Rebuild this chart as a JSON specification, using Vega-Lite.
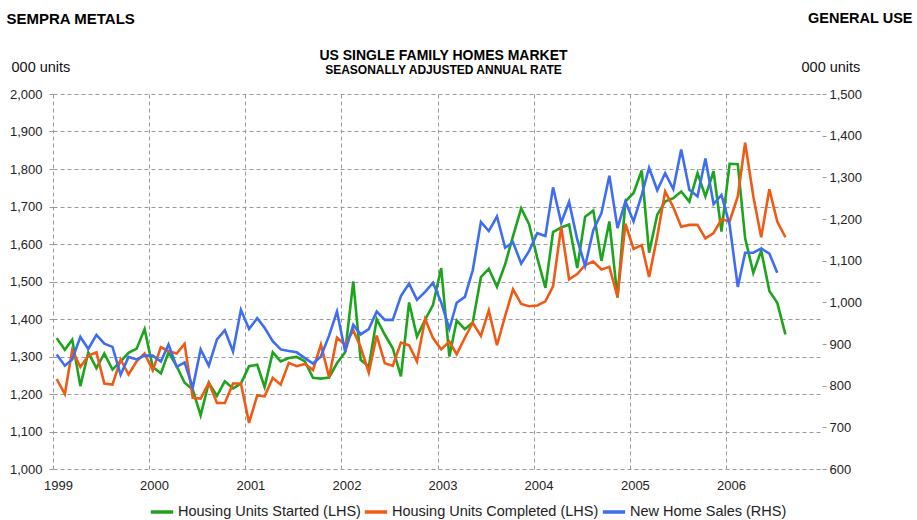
{
  "$schema": "https://vega.github.io/schema/vega-lite/v6.json",
  "autosize": {"type": "none"},
  "padding": {"left": 53, "top": 94, "right": 95, "bottom": 51},
  "width": 769,
  "height": 375,
  "background": "white",
  "config": {
    "view": {"stroke": null},
    "font": "Liberation Sans",
    "axis": {"labelFont": "Liberation Sans", "titleFont": "Liberation Sans", "labelColor": "#222", "titleColor": "#111"},
    "legend": {"labelFont": "Liberation Sans"}
  },
  "title": {
    "text": "US SINGLE FAMILY HOMES MARKET",
    "subtitle": "SEASONALLY ADJUSTED ANNUAL RATE",
    "anchor": "middle",
    "frame": "group",
    "fontSize": 14,
    "subtitleFontSize": 12,
    "fontWeight": "bold",
    "subtitleFontWeight": "bold",
    "font": "Liberation Sans",
    "subtitleFont": "Liberation Sans",
    "color": "#000",
    "subtitleColor": "#000",
    "subtitlePadding": 2,
    "dx": 6,
    "dy": 76,
    "offset": 10
  },
  "data": {"values": [
    {"month": "1999-01-15", "started": 1349, "completed": 1240, "sales": 875},
    {"month": "1999-02-15", "started": 1318, "completed": 1200, "sales": 848},
    {"month": "1999-03-15", "started": 1345, "completed": 1317, "sales": 863},
    {"month": "1999-04-15", "started": 1221, "completed": 1272, "sales": 917},
    {"month": "1999-05-15", "started": 1311, "completed": 1302, "sales": 888},
    {"month": "1999-06-15", "started": 1269, "completed": 1311, "sales": 922},
    {"month": "1999-07-15", "started": 1308, "completed": 1228, "sales": 901},
    {"month": "1999-08-15", "started": 1265, "completed": 1225, "sales": 893},
    {"month": "1999-09-15", "started": 1287, "completed": 1292, "sales": 826},
    {"month": "1999-10-15", "started": 1310, "completed": 1252, "sales": 869},
    {"month": "1999-11-15", "started": 1321, "completed": 1287, "sales": 863},
    {"month": "1999-12-15", "started": 1373, "completed": 1308, "sales": 872},
    {"month": "2000-01-15", "started": 1272, "completed": 1263, "sales": 872},
    {"month": "2000-02-15", "started": 1255, "completed": 1325, "sales": 858},
    {"month": "2000-03-15", "started": 1311, "completed": 1314, "sales": 899},
    {"month": "2000-04-15", "started": 1274, "completed": 1308, "sales": 845},
    {"month": "2000-05-15", "started": 1230, "completed": 1334, "sales": 856},
    {"month": "2000-06-15", "started": 1212, "completed": 1190, "sales": 795},
    {"month": "2000-07-15", "started": 1143, "completed": 1188, "sales": 887},
    {"month": "2000-08-15", "started": 1230, "completed": 1230, "sales": 848},
    {"month": "2000-09-15", "started": 1195, "completed": 1176, "sales": 911},
    {"month": "2000-10-15", "started": 1234, "completed": 1176, "sales": 933},
    {"month": "2000-11-15", "started": 1215, "completed": 1228, "sales": 882},
    {"month": "2000-12-15", "started": 1228, "completed": 1228, "sales": 982},
    {"month": "2001-01-15", "started": 1274, "completed": 1123, "sales": 936},
    {"month": "2001-02-15", "started": 1278, "completed": 1196, "sales": 962},
    {"month": "2001-03-15", "started": 1219, "completed": 1194, "sales": 939},
    {"month": "2001-04-15", "started": 1311, "completed": 1243, "sales": 907},
    {"month": "2001-05-15", "started": 1287, "completed": 1225, "sales": 887},
    {"month": "2001-06-15", "started": 1296, "completed": 1283, "sales": 883},
    {"month": "2001-07-15", "started": 1299, "completed": 1274, "sales": 880},
    {"month": "2001-08-15", "started": 1287, "completed": 1280, "sales": 866},
    {"month": "2001-09-15", "started": 1243, "completed": 1264, "sales": 853},
    {"month": "2001-10-15", "started": 1241, "completed": 1332, "sales": 870},
    {"month": "2001-11-15", "started": 1244, "completed": 1245, "sales": 920},
    {"month": "2001-12-15", "started": 1282, "completed": 1350, "sales": 978},
    {"month": "2002-01-15", "started": 1311, "completed": 1332, "sales": 882},
    {"month": "2002-02-15", "started": 1500, "completed": 1370, "sales": 946},
    {"month": "2002-03-15", "started": 1291, "completed": 1325, "sales": 923},
    {"month": "2002-04-15", "started": 1273, "completed": 1257, "sales": 936},
    {"month": "2002-05-15", "started": 1400, "completed": 1356, "sales": 978},
    {"month": "2002-06-15", "started": 1358, "completed": 1282, "sales": 958},
    {"month": "2002-07-15", "started": 1322, "completed": 1275, "sales": 958},
    {"month": "2002-08-15", "started": 1247, "completed": 1337, "sales": 1015},
    {"month": "2002-09-15", "started": 1444, "completed": 1330, "sales": 1045},
    {"month": "2002-10-15", "started": 1353, "completed": 1287, "sales": 1006},
    {"month": "2002-11-15", "started": 1398, "completed": 1400, "sales": 1025},
    {"month": "2002-12-15", "started": 1438, "completed": 1349, "sales": 1047},
    {"month": "2003-01-15", "started": 1536, "completed": 1319, "sales": 1000},
    {"month": "2003-02-15", "started": 1300, "completed": 1340, "sales": 936},
    {"month": "2003-03-15", "started": 1396, "completed": 1306, "sales": 999},
    {"month": "2003-04-15", "started": 1373, "completed": 1350, "sales": 1013},
    {"month": "2003-05-15", "started": 1391, "completed": 1390, "sales": 1077},
    {"month": "2003-06-15", "started": 1512, "completed": 1355, "sales": 1193},
    {"month": "2003-07-15", "started": 1534, "completed": 1423, "sales": 1171},
    {"month": "2003-08-15", "started": 1486, "completed": 1330, "sales": 1206},
    {"month": "2003-09-15", "started": 1546, "completed": 1408, "sales": 1131},
    {"month": "2003-10-15", "started": 1621, "completed": 1479, "sales": 1144},
    {"month": "2003-11-15", "started": 1695, "completed": 1440, "sales": 1093},
    {"month": "2003-12-15", "started": 1653, "completed": 1434, "sales": 1123},
    {"month": "2004-01-15", "started": 1563, "completed": 1436, "sales": 1166},
    {"month": "2004-02-15", "started": 1483, "completed": 1447, "sales": 1159},
    {"month": "2004-03-15", "started": 1632, "completed": 1487, "sales": 1276},
    {"month": "2004-04-15", "started": 1644, "completed": 1646, "sales": 1191},
    {"month": "2004-05-15", "started": 1652, "completed": 1506, "sales": 1241},
    {"month": "2004-06-15", "started": 1536, "completed": 1520, "sales": 1151},
    {"month": "2004-07-15", "started": 1673, "completed": 1544, "sales": 1087},
    {"month": "2004-08-15", "started": 1689, "completed": 1553, "sales": 1173},
    {"month": "2004-09-15", "started": 1555, "completed": 1532, "sales": 1214},
    {"month": "2004-10-15", "started": 1660, "completed": 1539, "sales": 1304},
    {"month": "2004-11-15", "started": 1457, "completed": 1459, "sales": 1178},
    {"month": "2004-12-15", "started": 1713, "completed": 1654, "sales": 1242},
    {"month": "2005-01-15", "started": 1736, "completed": 1587, "sales": 1194},
    {"month": "2005-02-15", "started": 1796, "completed": 1597, "sales": 1258},
    {"month": "2005-03-15", "started": 1577, "completed": 1512, "sales": 1323},
    {"month": "2005-04-15", "started": 1678, "completed": 1620, "sales": 1269},
    {"month": "2005-05-15", "started": 1713, "completed": 1740, "sales": 1310},
    {"month": "2005-06-15", "started": 1722, "completed": 1698, "sales": 1272},
    {"month": "2005-07-15", "started": 1740, "completed": 1646, "sales": 1367},
    {"month": "2005-08-15", "started": 1713, "completed": 1651, "sales": 1270},
    {"month": "2005-09-15", "started": 1789, "completed": 1651, "sales": 1254},
    {"month": "2005-10-15", "started": 1727, "completed": 1615, "sales": 1345},
    {"month": "2005-11-15", "started": 1794, "completed": 1629, "sales": 1236},
    {"month": "2005-12-15", "started": 1633, "completed": 1666, "sales": 1258},
    {"month": "2006-01-15", "started": 1814, "completed": 1660, "sales": 1186},
    {"month": "2006-02-15", "started": 1813, "completed": 1727, "sales": 1037},
    {"month": "2006-03-15", "started": 1615, "completed": 1870, "sales": 1119},
    {"month": "2006-04-15", "started": 1523, "completed": 1727, "sales": 1119},
    {"month": "2006-05-15", "started": 1582, "completed": 1618, "sales": 1129},
    {"month": "2006-06-15", "started": 1475, "completed": 1746, "sales": 1117},
    {"month": "2006-07-15", "started": 1443, "completed": 1660, "sales": 1071},
    {"month": "2006-08-15", "started": 1359, "completed": 1618}
  ]},
  "layer": [
    {
      "transform": [{"fold": ["started", "completed"], "as": ["series", "value"]}],
      "mark": {"type": "line", "strokeWidth": 2.6, "clip": false},
      "encoding": {
        "x": {
          "field": "month", "type": "temporal",
          "scale": {"domain": [{"year": 1999, "month": 1, "date": 1}, {"year": 2007, "month": 1, "date": 1}]},
          "axis": {
            "values": [{"year": 1999, "month": 1, "date": 1}, {"year": 2000, "month": 1, "date": 1}, {"year": 2001, "month": 1, "date": 1}, {"year": 2002, "month": 1, "date": 1}, {"year": 2003, "month": 1, "date": 1}, {"year": 2004, "month": 1, "date": 1}, {"year": 2005, "month": 1, "date": 1}, {"year": 2006, "month": 1, "date": 1}],
            "format": "%Y",
            "grid": true, "gridDash": [4, 3], "gridColor": "#9a9a9a", "gridWidth": 1,
            "domain": false, "ticks": false,
            "labelFontSize": 13, "labelPadding": 10, "labelOffset": 5, "labelAlign": "center", "labelFlush": false,
            "title": "SEMPRA METALS", "titleX": -47, "titleY": -451, "titleAlign": "left", "titleBaseline": "middle",
            "titleFontSize": 15, "titleFontWeight": "bold", "titleColor": "#000"
          }
        },
        "y": {
          "field": "value", "type": "quantitative",
          "scale": {"domain": [1000, 2000], "nice": false, "zero": false},
          "axis": {
            "orient": "left",
            "values": [1000, 1100, 1200, 1300, 1400, 1500, 1600, 1700, 1800, 1900, 2000],
            "format": ",.0f",
            "grid": true, "gridDash": [4, 3], "gridColor": "#9a9a9a", "gridWidth": 1,
            "domain": false, "ticks": true, "tickSize": 4, "tickColor": "#9a9a9a",
            "labelFontSize": 13, "labelPadding": 7,
            "title": "000 units", "titleAngle": 0, "titleX": -42, "titleY": -27, "titleAlign": "left", "titleBaseline": "middle",
            "titleFontSize": 14.5, "titleFontWeight": "normal"
          }
        },
        "color": {
          "field": "series", "type": "nominal",
          "scale": {"domain": ["started", "completed", "sales"], "range": ["#1ca51c", "#f05a14", "#3f6df2"]},
          "legend": {
            "orient": "none", "legendX": 96, "legendY": 405, "direction": "horizontal",
            "title": null, "symbolType": "stroke", "symbolSize": 500, "symbolStrokeWidth": 3.5,
            "labelFontSize": 14.5, "labelColor": "#222", "labelOffset": 3, "labelLimit": 400, "columnPadding": -4, "padding": 0,
            "labelExpr": "datum.label == 'started' ? 'Housing Units Started (LHS)' : datum.label == 'completed' ? 'Housing Units Completed (LHS)' : 'New Home Sales (RHS)'"
          }
        }
      }
    },
    {
      "mark": {"type": "line", "strokeWidth": 2.6, "clip": false},
      "encoding": {
        "x": {
          "field": "month", "type": "temporal",
          "axis": {
            "orient": "top", "labels": false, "ticks": false, "domain": false, "grid": false,
            "title": "GENERAL USE", "titleX": 859, "titleY": -76, "titleAlign": "right", "titleBaseline": "middle",
            "titleFontSize": 14.5, "titleFontWeight": "bold", "titleColor": "#000"
          }
        },
        "y": {
          "field": "sales", "type": "quantitative",
          "scale": {"domain": [600, 1500], "nice": false, "zero": false},
          "axis": {
            "orient": "right",
            "values": [600, 700, 800, 900, 1000, 1100, 1200, 1300, 1400, 1500],
            "format": ",.0f",
            "grid": false, "domain": false, "ticks": true, "tickSize": 4, "tickColor": "#9a9a9a",
            "labelFontSize": 13, "labelPadding": 3,
            "title": "000 units", "titleAngle": 0, "titleX": -21, "titleY": -27, "titleAlign": "left", "titleBaseline": "middle",
            "titleFontSize": 14.5, "titleFontWeight": "normal"
          }
        },
        "color": {"datum": "sales", "type": "nominal"}
      }
    }
  ],
  "resolve": {"scale": {"y": "independent"}, "axis": {"x": "independent"}}
}
